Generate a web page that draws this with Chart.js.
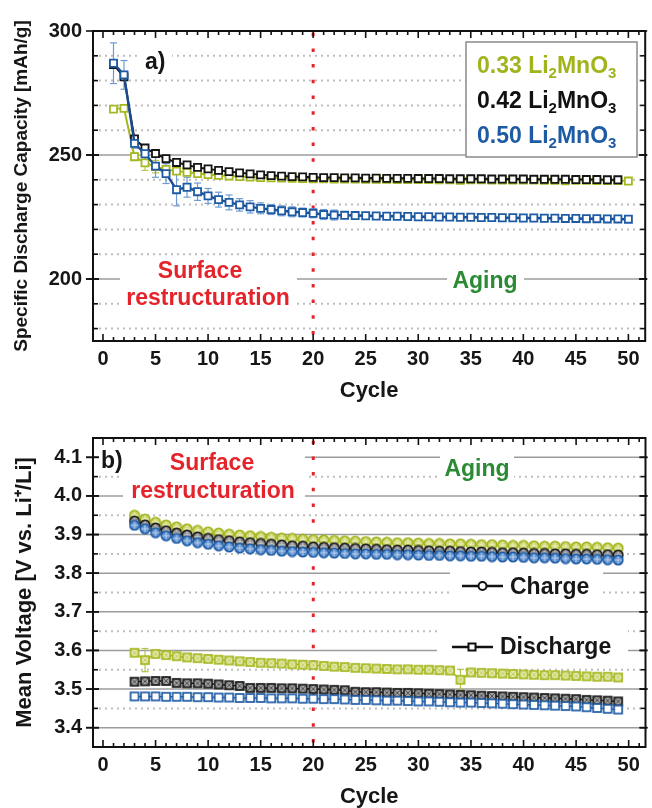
<!DOCTYPE html>
<html>
<head>
<meta charset="utf-8">
<script src="https://cdn.jsdelivr.net/npm/chart.js@4.4.0/dist/chart.umd.min.js"></script>
<style>
  html, body { margin: 0; padding: 0; background: #fff; }
  #page { position: relative; width: 652px; height: 808px; overflow: hidden; }
  #page canvas { position: absolute; left: 0; }
</style>
</head>
<body>
<div id="page">
  <canvas id="capChart" width="652" height="405" style="top:0"></canvas>
  <canvas id="voltChart" width="652" height="403" style="top:405px"></canvas>
</div>
<script>
// ---------- (a) specific discharge capacity per cycle ----------
const capCycles = [1,2,3,4,5,6,7,8,9,10,11,12,13,14,15,16,17,18,19,20,21,22,23,24,25,
                   26,27,28,29,30,31,32,33,34,35,36,37,38,39,40,41,42,43,44,45,46,47,48,49,50];
const cap033 = [268.5,268.8,249.3,246.8,245.3,244.2,243.5,243.0,242.5,242.1,
                241.8,241.5,241.3,241.1,240.9,240.8,240.7,240.6,240.5,240.4,
                240.4,240.3,240.3,240.3,240.2,240.2,240.2,240.1,240.1,240.1,
                240.1,240.0,240.0,239.8,240.0,240.0,239.9,239.9,239.9,239.9,
                239.9,239.8,239.8,239.6,239.8,239.8,239.7,239.7,239.7,239.5];
const cap042 = [286.5,281.5,256.5,252.8,250.6,248.5,247.0,246.0,245.0,244.4,
                243.8,243.3,242.8,242.4,242.0,241.7,241.5,241.3,241.2,241.0,
                240.9,240.9,240.8,240.8,240.7,240.7,240.6,240.6,240.6,240.5,
                240.5,240.5,240.4,240.4,240.4,240.4,240.3,240.3,240.3,240.3,
                240.2,240.2,240.2,240.2,240.1,240.1,240.1,240.0,240.0];
const cap050 = [287.0,282.3,254.7,250.5,245.5,242.5,236.0,237.0,235.2,233.5,
                232.0,230.9,229.9,229.1,228.5,228.0,227.5,227.1,226.8,226.5,
                226.0,225.8,225.7,225.6,225.5,225.4,225.3,225.3,225.2,225.1,
                225.1,225.0,225.0,224.9,224.9,224.8,224.8,224.7,224.7,224.6,
                224.6,224.5,224.5,224.4,224.4,224.3,224.3,224.2,224.2,224.1];
const cap033Err = [0,0,1.5,3.0,2.5,1.5,0,0,0,0, 0,0,0,0,0,0,0,0,0,0, 0,0,0,0,0,0,0,0,0,0,
                   0,0,0,0,0,0,0,0,0,0, 0,0,0,0,0,0,0,0,0,0];
const cap050Err = [8.2,5.8,2.0,3.0,4.5,4.0,6.5,4.0,3.5,3.0, 3.0,3.0,2.5,2.5,2.2,2.0,2.0,2.0,1.8,1.8,
                   2.0,2.0,0,0,0,0,0,0,0,0, 0,0,0,0,0,0,0,0,0,0, 0,0,0,0,0,0,0,0,0,0];
const capLabelTicks = [200, 250, 300];
const capMajorGrid = [200, 250];
const capMinorGrid = [180, 190, 210, 220, 230, 240, 260, 270, 280, 290];

// ---------- (b) mean charge / discharge voltage per cycle ----------
const voltCycles = [3,4,5,6,7,8,9,10,11,12,13,14,15,16,17,18,19,20,21,22,23,24,25,26,
                    27,28,29,30,31,32,33,34,35,36,37,38,39,40,41,42,43,44,45,46,47,48,49];
const chg033 = [3.950,3.940,3.932,3.925,3.920,3.915,3.911,3.907,3.904,3.901,
                3.899,3.897,3.895,3.893,3.891,3.890,3.888,3.887,3.886,3.885,
                3.884,3.883,3.882,3.881,3.880,3.879,3.879,3.878,3.877,3.877,
                3.876,3.876,3.875,3.874,3.874,3.873,3.872,3.872,3.871,3.870,
                3.870,3.869,3.868,3.868,3.867,3.866,3.865];
const chg042 = [3.935,3.925,3.917,3.910,3.904,3.899,3.894,3.890,3.887,3.884,
                3.881,3.879,3.877,3.875,3.873,3.871,3.870,3.868,3.867,3.866,
                3.865,3.864,3.863,3.862,3.861,3.860,3.860,3.859,3.858,3.857,
                3.857,3.856,3.855,3.855,3.854,3.853,3.853,3.852,3.851,3.851,
                3.850,3.850,3.849,3.849,3.848,3.848,3.847];
const chg050 = [3.924,3.915,3.905,3.897,3.890,3.884,3.879,3.875,3.871,3.868,
                3.865,3.863,3.861,3.859,3.857,3.856,3.855,3.854,3.853,3.852,
                3.851,3.850,3.850,3.849,3.849,3.848,3.848,3.847,3.846,3.846,
                3.845,3.845,3.844,3.844,3.843,3.842,3.842,3.841,3.840,3.840,
                3.839,3.838,3.837,3.837,3.836,3.835,3.834];
const dis033 = [3.594,3.575,3.591,3.588,3.585,3.582,3.580,3.578,3.576,3.574,
                3.572,3.570,3.568,3.567,3.566,3.564,3.563,3.562,3.560,3.558,
                3.557,3.555,3.554,3.553,3.552,3.551,3.551,3.550,3.550,3.549,
                3.548,3.524,3.543,3.542,3.541,3.540,3.539,3.538,3.537,3.536,
                3.536,3.535,3.534,3.533,3.532,3.532,3.530];
const dis033Err = [0,0.030,0,0,0,0,0,0,0,0, 0,0,0,0,0,0,0,0,0,0, 0,0,0,0,0,0,0,0,0,0,
                   0,0.027,0,0,0,0,0,0,0,0, 0,0,0,0,0,0,0];
const dis042 = [3.519,3.520,3.521,3.521,3.516,3.515,3.515,3.514,3.512,3.510,
                3.508,3.503,3.503,3.503,3.502,3.502,3.501,3.500,3.499,3.498,
                3.497,3.493,3.492,3.492,3.491,3.490,3.490,3.489,3.488,3.487,
                3.486,3.485,3.484,3.483,3.482,3.481,3.480,3.479,3.478,3.477,
                3.476,3.475,3.474,3.472,3.471,3.470,3.468];
const dis050 = [3.481,3.481,3.481,3.480,3.480,3.480,3.479,3.479,3.478,3.478,
                3.477,3.477,3.477,3.476,3.476,3.476,3.475,3.475,3.474,3.474,
                3.473,3.472,3.472,3.471,3.470,3.470,3.469,3.468,3.468,3.467,
                3.466,3.465,3.465,3.464,3.463,3.462,3.461,3.460,3.459,3.458,
                3.457,3.456,3.455,3.453,3.451,3.449,3.447];
const voltLabelTicks = [3.4, 3.5, 3.6, 3.7, 3.8, 3.9, 4.0, 4.1];
const voltMinorGrid = [3.45, 3.55, 3.65, 3.75, 3.85, 3.95, 4.05];

// ---------- shared axis values ----------
const cycleLabelTicks = [0, 5, 10, 15, 20, 25, 30, 35, 40, 45, 50];
const cycleMinorTicks = [0,1,2,3,4,5,6,7,8,9,10,11,12,13,14,15,16,17,18,19,20,21,22,23,24,25,
                         26,27,28,29,30,31,32,33,34,35,36,37,38,39,40,41,42,43,44,45,46,47,48,49,50,51];
const phaseBoundary = 20;
const compositions = ['0.33', '0.42', '0.50'];

// ---------- styling ----------
const FONT = '"Liberation Sans", Arial, Helvetica, sans-serif';
const INK = '#161616';
const GREEN = '#a6b820', BLACK = '#151515', BLUE = '#1e5ba5';
const RED = '#e5232b', AGING = '#2b8a34';

const pts = (xs, ys) => ys.map((y, i) => ({ x: xs[i], y }));

function circleMarker(fill, stroke, cross) {
  const c = document.createElement('canvas');
  c.width = c.height = 12;
  const g = c.getContext('2d');
  g.beginPath(); g.arc(6, 6, 4.7, 0, Math.PI * 2); g.fillStyle = fill; g.fill();
  g.strokeStyle = cross; g.lineWidth = 1;
  g.beginPath(); g.moveTo(6, 2); g.lineTo(6, 10); g.moveTo(2, 6); g.lineTo(10, 6); g.stroke();
  g.beginPath(); g.arc(6, 6, 4.7, 0, Math.PI * 2); g.strokeStyle = stroke; g.lineWidth = 1.7; g.stroke();
  return c;
}
function squareMarker(fill, stroke, hatch) {
  const c = document.createElement('canvas');
  c.width = c.height = 12;
  const g = c.getContext('2d');
  g.fillStyle = fill; g.fillRect(2, 2, 8, 8);
  if (hatch) {
    g.strokeStyle = hatch; g.lineWidth = 1;
    g.beginPath(); g.moveTo(3, 3); g.lineTo(9, 9); g.moveTo(9, 3); g.lineTo(3, 9); g.stroke();
  }
  g.strokeStyle = stroke; g.lineWidth = 1.7; g.strokeRect(2, 2, 8, 8);
  return c;
}

function line(ctx, x1, y1, x2, y2) {
  ctx.beginPath(); ctx.moveTo(x1, y1); ctx.lineTo(x2, y2); ctx.stroke();
}
function whiteBox(ctx, x1, y1, x2, y2) {
  ctx.fillStyle = '#fff'; ctx.fillRect(x1, y1, x2 - x1, y2 - y1);
}
function text(ctx, str, x, y, color, size, align) {
  ctx.font = 'bold ' + size + 'px ' + FONT;
  ctx.fillStyle = color; ctx.textAlign = align || 'left'; ctx.textBaseline = 'alphabetic';
  ctx.fillText(str, x, y);
}
function compound(ctx, prefix, x, y, color) {
  const parts = [[prefix + ' Li', 0], ['2', 1], ['MnO', 0], ['3', 1]];
  let cx = x;
  ctx.fillStyle = color; ctx.textAlign = 'left'; ctx.textBaseline = 'alphabetic';
  parts.forEach(([t, sub]) => {
    ctx.font = 'bold ' + (sub ? 15 : 23) + 'px ' + FONT;
    ctx.fillText(t, cx, sub ? y + 5 : y);
    cx += ctx.measureText(t).width;
  });
}

// grid, phase divider, error bars, notes (below the data) and frame with ticks (above)
function figurePlugin(cfg) {
  return {
    id: 'figure',
    beforeDatasetsDraw(chart) {
      const { ctx, chartArea: a, scales: { x, y } } = chart;
      ctx.save();
      ctx.lineCap = 'butt';
      ctx.strokeStyle = '#bdbdbd'; ctx.lineWidth = 2; ctx.setLineDash([2, 4]);
      cfg.minorGrid.forEach(v => { const p = y.getPixelForValue(v); line(ctx, a.left, p, a.right, p); });
      ctx.setLineDash([]);
      ctx.strokeStyle = '#9c9c9c'; ctx.lineWidth = 1.6;
      cfg.majorGrid.forEach(v => { const p = y.getPixelForValue(v); line(ctx, a.left, p, a.right, p); });

      const px = x.getPixelForValue(phaseBoundary);
      ctx.strokeStyle = RED; ctx.lineWidth = 3; ctx.setLineDash([3.5, 12.2]); ctx.lineDashOffset = cfg.dashOffset;
      line(ctx, px, a.top, px, a.bottom);
      ctx.setLineDash([]); ctx.lineDashOffset = 0;

      chart.data.datasets.forEach((ds, i) => {
        if (!ds.errors) return;
        ctx.strokeStyle = ds.errorColor; ctx.lineWidth = 1.2;
        ds.data.forEach((p, j) => {
          const e = ds.errors[j];
          if (!e) return;
          const cx = x.getPixelForValue(p.x);
          const t = y.getPixelForValue(p.y + e), b = y.getPixelForValue(p.y - e);
          line(ctx, cx, t, cx, b);
          line(ctx, cx - 3.5, t, cx + 3.5, t);
          line(ctx, cx - 3.5, b, cx + 3.5, b);
        });
      });

      cfg.notes(ctx, chart);
      ctx.restore();
    },
    afterDatasetsDraw(chart) {
      const { ctx, chartArea: a, scales: { x, y } } = chart;
      ctx.save();
      ctx.strokeStyle = '#111'; ctx.lineWidth = 2; ctx.setLineDash([]);
      ctx.strokeRect(a.left, a.top, a.right - a.left, a.bottom - a.top);
      ctx.lineWidth = 1.6;
      cycleMinorTicks.forEach(v => {
        const p = x.getPixelForValue(v);
        const len = v % 5 === 0 ? 7 : 4;
        line(ctx, p, a.bottom, p, a.bottom - len);
        line(ctx, p, a.top, p, a.top + len);
      });
      cfg.majorGrid.concat(cfg.labelTicks).forEach(v => {
        const p = y.getPixelForValue(v);
        line(ctx, a.left - 7, p, a.left + 6, p);
        line(ctx, a.right - 6, p, a.right + 2, p);
      });
      cfg.minorGrid.forEach(v => {
        const p = y.getPixelForValue(v);
        line(ctx, a.left, p, a.left + 5, p);
        line(ctx, a.right - 5, p, a.right, p);
      });
      ctx.restore();
    }
  };
}

function axisOptions(o) {
  return {
    responsive: false,
    animation: false,
    devicePixelRatio: 1,
    events: [],
    layout: { padding: { top: o.padTop, right: 2, left: 0, bottom: 0 } },
    plugins: { legend: { display: false }, tooltip: { enabled: false } },
    elements: { line: { tension: 0 } },
    scales: {
      x: {
        type: 'linear', min: -0.95, max: 51.6,
        afterBuildTicks: s => { s.ticks = cycleLabelTicks.map(v => ({ value: v })); },
        afterFit: s => { s.height = o.xHeight; },
        grid: { display: false, drawTicks: false },
        border: { display: false },
        ticks: { padding: 6, color: INK, autoSkip: false, maxRotation: 0,
                 font: { family: FONT, size: 20, weight: 'bold' } },
        title: { display: true, text: 'Cycle', color: INK,
                 font: { family: FONT, size: 22, weight: 'bold', lineHeight: 1 },
                 padding: { top: 0, bottom: o.xTitlePad } }
      },
      y: {
        type: 'linear', min: o.yMin, max: o.yMax,
        afterBuildTicks: s => { s.ticks = o.yTicks.map(v => ({ value: v })); },
        afterFit: s => { s.width = 93; },
        grid: { display: false, drawTicks: false },
        border: { display: false },
        ticks: { padding: 11, color: INK, autoSkip: false, callback: o.yFormat,
                 font: { family: FONT, size: 20, weight: 'bold' } },
        title: { display: true, text: o.yTitle, color: INK,
                 font: { family: FONT, size: o.yTitleSize, weight: 'bold', lineHeight: 1 },
                 padding: { top: o.yTitlePad, bottom: 0 } }
      }
    }
  };
}

// ---------- chart (a) ----------
const capSeries = (data, color, lineColor, width, order) => ({
  data, order, borderColor: lineColor, borderWidth: width,
  pointStyle: 'rect', pointRadius: 5, pointBorderWidth: 1.8,
  pointBorderColor: color, pointBackgroundColor: '#fff', fill: false
});
const capDatasets = [
  Object.assign(capSeries(pts(capCycles, cap033), GREEN, GREEN, 2, 3),
                { label: compositions[0], errors: cap033Err, errorColor: '#b9c74f' }),
  Object.assign(capSeries(pts(capCycles, cap042), BLACK, BLACK, 2, 2),
                { label: compositions[1] }),
  Object.assign(capSeries(pts(capCycles, cap050), BLUE, '#1b4b8e', 2.4, 1),
                { label: compositions[2], errors: cap050Err, errorColor: '#6e9bd4' })
];

new Chart(document.getElementById('capChart'), {
  type: 'line',
  data: { datasets: capDatasets },
  options: axisOptions({
    padTop: 31, xHeight: 64, xTitlePad: 3,
    yMin: 175, yMax: 300, yTicks: capLabelTicks, yFormat: v => String(v),
    yTitle: 'Specific Discharge Capacity [mAh/g]', yTitleSize: 19, yTitlePad: 12
  }),
  plugins: [figurePlugin({
    majorGrid: capMajorGrid, minorGrid: capMinorGrid, labelTicks: capLabelTicks, dashOffset: 14,
    notes(ctx) {
      whiteBox(ctx, 140, 48, 172, 77);
      text(ctx, 'a)', 145, 69, INK, 23);
      whiteBox(ctx, 120, 257, 297, 311);
      text(ctx, 'Surface', 200, 278, RED, 23, 'center');
      text(ctx, 'restructuration', 208, 305, RED, 23, 'center');
      whiteBox(ctx, 447, 266, 524, 297);
      text(ctx, 'Aging', 485, 288, AGING, 23, 'center');
      // composition key
      whiteBox(ctx, 466, 42, 637, 157);
      ctx.strokeStyle = '#8a8a8a'; ctx.lineWidth = 1.5;
      ctx.strokeRect(466, 42, 171, 115);
      compound(ctx, compositions[0], 477, 73, '#a2b41c');
      compound(ctx, compositions[1], 477, 108, '#111');
      compound(ctx, compositions[2], 477, 143, BLUE);
    }
  })]
});

// ---------- chart (b) ----------
const voltSeries = (data, color, marker, order) => ({
  data, order, borderColor: color, borderWidth: 1.5,
  pointStyle: marker, pointRadius: 5, fill: false
});
const voltDatasets = [
  Object.assign(voltSeries(pts(voltCycles, chg033), GREEN, circleMarker('#cdd66c', '#a2b41c', '#eef2c8'), 6), { label: compositions[0] + ' charge' }),
  Object.assign(voltSeries(pts(voltCycles, chg042), BLACK, circleMarker('#8e8e8e', '#1a1a1a', '#d6d6d6'), 5), { label: compositions[1] + ' charge' }),
  Object.assign(voltSeries(pts(voltCycles, chg050), BLUE, circleMarker('#5e91cf', '#1e5ba5', '#c3d7ef'), 4), { label: compositions[2] + ' charge' }),
  Object.assign(voltSeries(pts(voltCycles, dis033), GREEN, squareMarker('#e2e8ae', '#a6b820', '#c6d160'), 3),
                { label: compositions[0] + ' discharge', errors: dis033Err, errorColor: '#b4c34a' }),
  Object.assign(voltSeries(pts(voltCycles, dis042), BLACK, squareMarker('#a4a4a4', '#1a1a1a', '#505050'), 2), { label: compositions[1] + ' discharge' }),
  Object.assign(voltSeries(pts(voltCycles, dis050), BLUE, squareMarker('#ffffff', '#1e5ba5', null), 1), { label: compositions[2] + ' discharge' })
];

new Chart(document.getElementById('voltChart'), {
  type: 'line',
  data: { datasets: voltDatasets },
  options: axisOptions({
    padTop: 33, xHeight: 61, xTitlePad: 0,
    yMin: 3.35, yMax: 4.15, yTicks: voltLabelTicks, yFormat: v => v.toFixed(1),
    yTitle: 'Mean Voltage [V vs. Li\u207A/Li]', yTitleSize: 22, yTitlePad: 14
  }),
  plugins: [figurePlugin({
    majorGrid: voltLabelTicks, minorGrid: voltMinorGrid, labelTicks: voltLabelTicks, dashOffset: 13,
    notes(ctx) {
      whiteBox(ctx, 97, 36, 128, 70);
      text(ctx, 'b)', 101, 63, INK, 23);
      whiteBox(ctx, 123, 36, 305, 101);
      text(ctx, 'Surface', 212, 65, RED, 23, 'center');
      text(ctx, 'restructuration', 213, 93, RED, 23, 'center');
      whiteBox(ctx, 440, 43, 514, 83);
      text(ctx, 'Aging', 477, 71, AGING, 23, 'center');
      // charge / discharge key
      whiteBox(ctx, 450, 162, 603, 198);
      ctx.strokeStyle = '#111'; ctx.lineWidth = 2.6;
      line(ctx, 462, 181, 503, 181);
      ctx.beginPath(); ctx.arc(482.5, 181, 4, 0, Math.PI * 2);
      ctx.fillStyle = '#fff'; ctx.fill(); ctx.lineWidth = 2; ctx.stroke();
      text(ctx, 'Charge', 510, 189, INK, 23);
      whiteBox(ctx, 437, 221, 628, 259);
      ctx.lineWidth = 2.6;
      line(ctx, 452, 242, 493, 242);
      ctx.fillStyle = '#fff'; ctx.fillRect(468.5, 238.5, 7, 7);
      ctx.lineWidth = 2; ctx.strokeRect(468.5, 238.5, 7, 7);
      text(ctx, 'Discharge', 500, 249, INK, 23);
    }
  })]
});
</script>
</body>
</html>
